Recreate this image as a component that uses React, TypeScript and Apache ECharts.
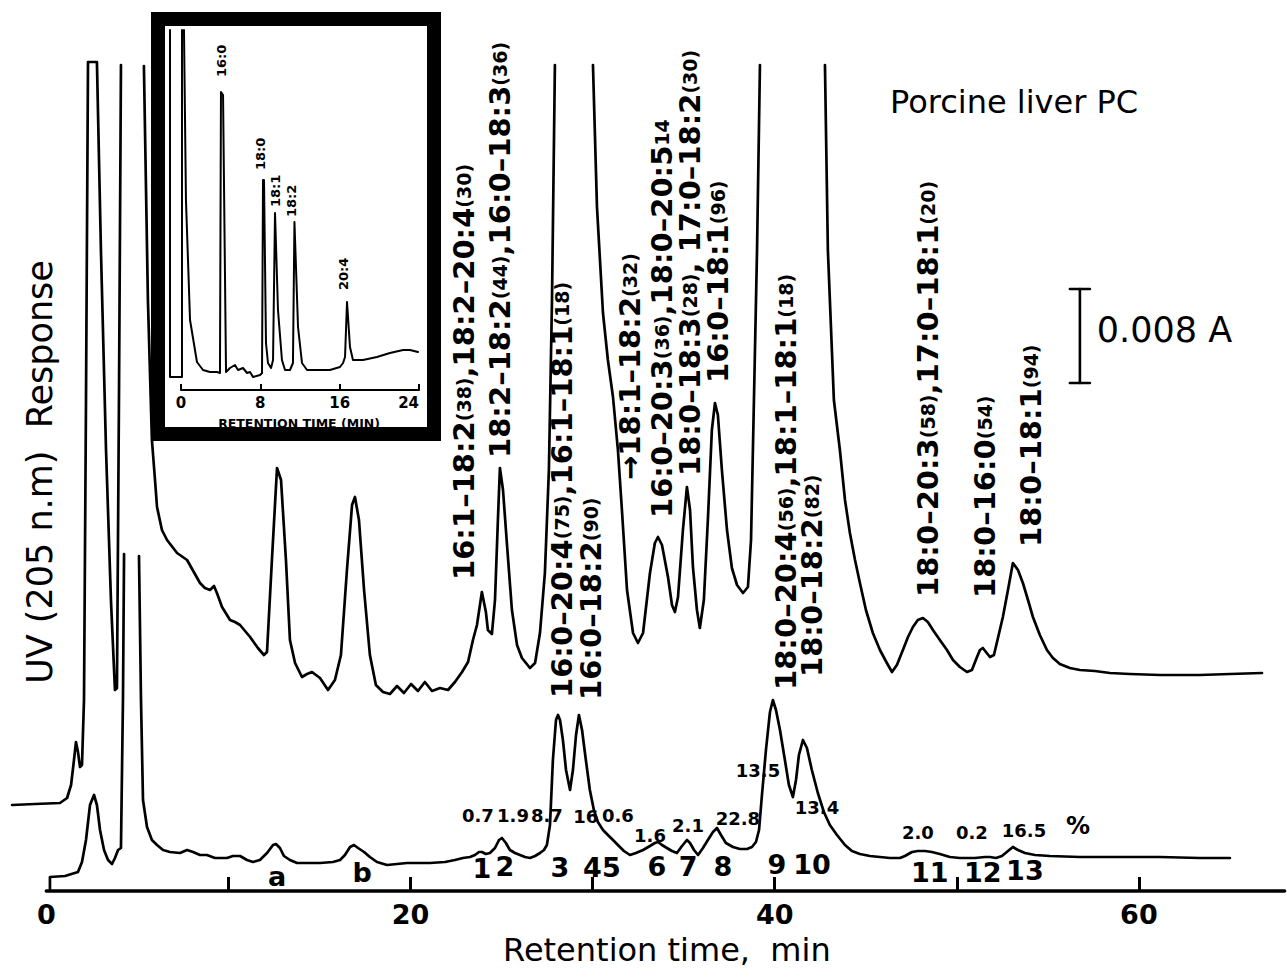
import React, { useEffect, useRef } from "react";
import * as echarts from "echarts";

type Pt = [number, number] | null;

// Main chromatogram: x = retention time (min), y = detector response (arbitrary units, 94 units = 0.008 A)
const upperTrace: Pt[] = [
  [-1.88, 86], [-0.62, 87], [0.75, 88], [1.14, 93], [1.36, 106], [1.52, 131], [1.63, 149], [1.74, 139], [1.85, 124], [1.96, 126],
  [2.07, 191], [2.18, 491], [2.29, 829], [2.78, 829], [3.0, 641], [3.28, 441], [3.55, 291], [3.77, 201], [3.88, 203], [3.99, 491], [4.1, 826], null,
  [5.36, 825], [5.58, 591], [5.8, 451], [5.97, 411], [6.08, 384], [6.35, 361], [6.63, 351], [7.18, 338], [7.73, 331], [8.44, 308],
  [8.71, 303], [8.99, 301], [9.21, 305], [9.37, 298], [9.65, 284], [10.09, 271], [10.36, 269], [10.64, 266], [11.19, 254], [11.62, 243],
  [11.95, 236], [12.12, 239], [12.39, 331], [12.67, 423], [12.89, 411], [13.16, 331], [13.38, 251], [13.66, 228], [14.04, 214], [14.32, 217],
  [14.59, 219], [15.03, 213], [15.47, 201], [15.85, 211], [16.18, 236], [16.51, 321], [16.79, 386], [16.95, 394], [17.17, 371], [17.45, 301],
  [17.77, 236], [18.1, 206], [18.49, 199], [18.87, 197], [19.26, 205], [19.64, 198], [20.03, 207], [20.41, 200], [20.79, 209], [21.18, 200],
  [21.62, 203], [22.06, 201], [22.44, 209], [22.83, 219], [23.16, 229], [23.43, 251], [23.65, 266], [23.92, 299], [24.14, 279], [24.25, 261],
  [24.47, 257], [24.64, 291], [24.8, 371], [24.91, 423], [25.08, 401], [25.3, 346], [25.57, 281], [25.85, 246], [26.12, 233], [26.56, 223],
  [26.84, 228], [27.11, 258], [27.38, 318], [27.6, 421], [27.77, 591], [27.93, 826], null,
  [30.02, 826], [30.24, 684], [30.57, 578], [30.84, 531], [31.12, 494], [31.39, 441], [31.61, 381], [31.89, 301], [32.22, 258], [32.49, 248],
  [32.77, 258], [33.15, 318], [33.42, 348], [33.59, 354], [33.81, 346], [34.14, 314], [34.36, 286], [34.52, 279], [34.69, 294], [34.96, 361],
  [35.18, 404], [35.35, 381], [35.51, 324], [35.73, 281], [35.89, 263], [36.11, 291], [36.33, 371], [36.55, 461], [36.72, 488], [36.88, 476],
  [37.1, 421], [37.38, 361], [37.65, 323], [37.93, 306], [38.26, 298], [38.53, 304], [38.7, 351], [38.86, 491], [39.03, 641], [39.19, 826], null,
  [42.76, 826], [42.92, 641], [43.25, 491], [43.58, 441], [43.86, 391], [44.13, 358], [44.41, 331], [44.68, 308], [45.01, 281], [45.39, 258],
  [45.78, 241], [46.16, 228], [46.44, 219], [46.71, 226], [47.04, 241], [47.32, 254], [47.59, 264], [47.86, 271], [48.14, 273], [48.41, 269],
  [48.69, 261], [49.07, 251], [49.46, 241], [49.79, 231], [50.17, 224], [50.56, 219], [50.83, 221], [51.11, 234], [51.27, 241], [51.43, 243],
  [51.6, 239], [51.82, 234], [52.04, 236], [52.26, 253], [52.53, 274], [52.81, 301], [53.08, 328], [53.36, 321], [53.63, 308], [53.91, 291],
  [54.18, 274], [54.56, 256], [54.95, 241], [55.28, 233], [55.66, 227], [56.21, 223], [56.76, 221], [57.58, 220], [58.41, 218], [59.51, 217],
  [61.15, 216], [63.35, 216], [65.0, 217], [66.76, 218],
];

const lowerTrace: Pt[] = [
  [0.2, 0], [0.2, 14], [1.03, 15], [1.74, 19], [1.96, 29], [2.18, 51], [2.4, 86], [2.62, 96], [2.78, 86], [2.95, 61], [3.17, 41], [3.39, 31],
  [3.61, 27], [3.77, 33], [3.94, 41], [4.1, 43], [4.21, 191], [4.27, 337], null,
  [5.09, 335], [5.2, 191], [5.31, 91], [5.53, 64], [5.8, 51], [6.08, 46], [6.41, 41], [6.79, 39], [7.34, 38], [7.73, 41], [8.06, 39],
  [8.44, 36], [8.82, 36], [9.26, 33], [9.65, 33], [9.92, 33], [10.25, 35], [10.64, 35], [11.02, 31], [11.35, 29], [11.73, 31], [12.12, 38],
  [12.45, 46], [12.61, 47], [12.83, 43], [13.05, 35], [13.38, 31], [13.77, 28], [14.48, 28], [15.03, 28], [15.74, 29], [16.13, 31], [16.4, 36],
  [16.68, 44], [16.9, 46], [17.12, 43], [17.45, 39], [17.77, 34], [18.16, 29], [18.71, 26], [19.26, 27], [19.81, 28], [20.52, 28], [21.07, 28],
  [21.89, 29], [22.44, 31], [22.88, 33], [23.27, 34], [23.54, 36], [23.76, 39], [23.92, 39], [24.14, 37], [24.36, 38], [24.64, 43], [24.86, 51],
  [25.02, 53], [25.24, 48], [25.46, 41], [25.74, 38], [26.01, 36], [26.29, 34], [26.56, 33], [26.84, 35], [27.11, 38], [27.33, 41], [27.49, 46],
  [27.66, 66], [27.82, 131], [27.99, 171], [28.1, 176], [28.21, 171], [28.37, 151], [28.54, 121], [28.76, 101], [28.92, 121], [29.09, 156],
  [29.25, 176], [29.42, 161], [29.63, 131], [29.85, 101], [30.07, 81], [30.29, 69], [30.57, 61], [30.84, 56], [31.12, 51], [31.39, 46],
  [31.72, 40], [32.05, 36], [32.38, 38], [32.77, 41], [33.15, 45], [33.42, 48], [33.59, 49], [33.81, 46], [34.08, 43], [34.36, 40], [34.63, 38],
  [34.91, 45], [35.18, 51], [35.35, 48], [35.57, 41], [35.79, 36], [36.06, 43], [36.33, 51], [36.61, 59], [36.83, 63], [37.05, 56], [37.32, 48],
  [37.71, 44], [38.09, 42], [38.48, 42], [38.75, 44], [38.97, 49], [39.14, 61], [39.3, 96], [39.52, 141], [39.74, 179], [39.9, 191], [40.07, 181],
  [40.29, 161], [40.56, 131], [40.78, 106], [41.0, 94], [41.17, 111], [41.33, 136], [41.55, 151], [41.77, 143], [42.04, 121], [42.37, 98],
  [42.7, 79], [43.03, 66], [43.42, 56], [43.86, 46], [44.24, 40], [44.68, 37], [45.23, 35], [45.78, 34], [46.33, 33], [46.88, 33], [47.15, 35],
  [47.54, 39], [47.86, 40], [48.25, 40], [48.63, 39], [49.07, 37], [49.62, 34], [50.17, 33], [50.99, 33], [51.54, 34], [51.82, 34], [52.15, 33],
  [52.48, 35], [52.81, 40], [53.08, 44], [53.36, 41], [53.74, 38], [54.29, 36], [55.11, 35], [56.76, 34], [58.96, 34], [61.15, 34], [63.35, 33],
  [65.0, 33],
];

// Inset: fatty acid derivatives, retention time (min) vs response
const insetTrace: Pt[] = [
  [-1.11, 360], [-1.11, 13], [0.1, 13], [0.1, 360], null,
  [0.3, 360], [0.5, 190], [0.91, 70], [1.61, 28], [2.22, 20], [2.92, 18], [3.63, 18], [3.93, 17], [4.03, 298], [4.24, 295], [4.54, 18],
  [4.94, 22], [5.44, 25], [5.75, 20], [6.25, 22], [6.66, 17], [6.96, 18], [7.26, 13], [7.97, 15], [8.17, 17], [8.27, 210], [8.37, 210],
  [8.57, 47], [8.77, 27], [9.08, 22], [9.28, 30], [9.48, 177], [9.78, 80], [10.18, 30], [10.49, 20], [10.99, 20], [11.29, 27], [11.44, 168],
  [11.8, 63], [12.2, 27], [12.71, 20], [13.71, 20], [15.02, 20], [16.03, 23], [16.34, 27], [16.54, 33], [16.74, 88], [17.04, 43], [17.34, 30],
  [18.35, 30], [19.76, 33], [21.07, 37], [22.39, 40], [23.09, 40], [23.9, 38],
];

// Molecular species annotations (upper trace); (n) and {n} = smaller figures
const species = [
  "16:1–18:2(38),18:2–20:4(30)",
  "18:2–18:2(44),16:0–18:3(36)",
  "16:0–20:4(75),16:1–18:1(18)",
  "16:0–18:2(90)",
  "→18:1–18:2(32)",
  "16:0–20:3(36),18:0–20:5{14}",
  "18:0–18:3(28), 17:0–18:2(30)",
  "16:0–18:1(96)",
  "18:0–20:4(56),18:1–18:1(18)",
  "18:0–18:2(82)",
  "18:0–20:3(58),17:0–18:1(20)",
  "18:0–16:0(54)",
  "18:0–18:1(94)",
];
const speciesTimes = [22.94, 24.91, 28.32, 29.91, 32.05, 33.81, 35.35, 36.9, 40.62, 42.05, 48.41, 51.54, 54.07];
const speciesBase = [311, 433, 193, 191, 411, 373, 415, 508, 201, 214, 294, 293, 344];

// Peak identifiers under the lower trace
const peakIds = ["a", "b", "1", "2", "3", "45", "6", "7", "8", "9", "10", "11", "12", "13"];
const peakIdTimes = [12.67, 17.34, 23.92, 25.19, 28.21, 30.51, 33.53, 35.24, 37.16, 40.12, 42.05, 48.52, 51.43, 53.74];
const peakIdLevels = [15, 19, 23, 25, 24, 24, 25, 25, 25, 27, 27, 19, 19, 21];

// Area percentages
const percents = ["0.7", "1.9", "8.7", "16", "0.6", "1.6", "2.1", "22.8", "13.5", "13.4", "2.0", "0.2", "16.5"];
const percentTimes = [23.7, 25.63, 27.49, 29.63, 31.39, 33.15, 35.24, 37.98, 39.08, 42.32, 47.86, 50.83, 53.69];
const percentLevels = [76, 76, 76, 75, 76, 56, 66, 73, 121, 84, 59, 59, 61];
const percentUnit = { t: 56.65, v: 65 };

// Inset acid labels
const insetAcids = ["16:0", "18:0", "18:1", "18:2", "20:4"];
const insetAcidTimes = [4.13, 7.97, 9.48, 11.19, 16.34];
const insetAcidBase = [313, 220, 183, 173, 100];

// Axis ticks
const mainTicks = [10, 20, 30, 40, 50, 60];
const mainTickLabels = [0, 20, 40, 60];
const insetTicks = [0, 8, 16, 24];

// Scale bar: 0.008 A
const scaleBarTime = 56.76;
const scaleBarRange = [508, 602];
const scaleBarText = "0.008 A";
const scaleTextAnchor = { t: 57.69, v: 561 };

const titleText = "Porcine liver PC";
const titleAnchor = { t: 46.33, v: 789 };
const xTitle = "Retention time,  min";
const xTitleAnchor = { t: 34.08, v: -59 };

const FONT = "DejaVu Sans";

function segments(pts: Pt[]): [number, number][][] {
  const out: [number, number][][] = [];
  let cur: [number, number][] = [];
  for (const p of pts) {
    if (p === null) {
      if (cur.length) out.push(cur);
      cur = [];
    } else cur.push(p);
  }
  if (cur.length) out.push(cur);
  return out;
}

function richSpecies(s: string) {
  return s
    .split(/(\(\d+\)|\{\d+\})/)
    .filter((p) => p.length > 0)
    .map((p) => {
      if (p.startsWith("(")) return `{s|${p}}`;
      if (p.startsWith("{")) return `{s|${p.slice(1, -1)}}`;
      return `{b|${p}}`;
    })
    .join("");
}

function lineSeries(data: [number, number][], gi: number, width: number) {
  return {
    type: "line",
    data,
    xAxisIndex: gi,
    yAxisIndex: gi,
    showSymbol: false,
    symbol: "none",
    clip: false,
    silent: true,
    z: gi ? 12 : 2,
    lineStyle: { color: "#000", width, join: "round", cap: "round" },
  };
}

function textSeries(items: { t: number; v: number; txt: string }[], gi: number, label: any) {
  return {
    type: "scatter",
    xAxisIndex: gi,
    yAxisIndex: gi,
    symbolSize: 1,
    clip: false,
    silent: true,
    z: gi ? 13 : 3,
    itemStyle: { color: "rgba(0,0,0,0)", opacity: 1 },
    data: items.map((d) => ({ value: [d.t, d.v], txt: d.txt })),
    label: {
      show: true,
      position: "inside",
      color: "#000",
      opacity: 1,
      fontFamily: FONT,
      formatter: (p: any) => p.data.txt,
      ...label,
    },
  };
}

function buildOption() {
  const series: any[] = [];
  segments(upperTrace).forEach((s) => series.push(lineSeries(s, 0, 2.7)));
  segments(lowerTrace).forEach((s) => series.push(lineSeries(s, 0, 2.7)));
  segments(insetTrace).forEach((s) => series.push(lineSeries(s, 1, 2.0)));

  // axis baselines (start at 0 min)
  series.push(lineSeries([[0, 0], [68, 0]], 0, 3.5));
  series.push(lineSeries([[0, 0], [24, 0]], 1, 2));

  const cap = 0.55;
  const [lo, hi] = scaleBarRange;
  series.push(lineSeries([[scaleBarTime - cap, lo], [scaleBarTime + cap, lo]], 0, 2.6));
  series.push(lineSeries([[scaleBarTime, lo], [scaleBarTime, hi]], 0, 2.6));
  series.push(lineSeries([[scaleBarTime - cap, hi], [scaleBarTime + cap, hi]], 0, 2.6));

  series.push(
    textSeries(
      species.map((s, i) => ({ t: speciesTimes[i], v: speciesBase[i], txt: richSpecies(s) })),
      0,
      {
        rotate: 90,
        align: "left",
        verticalAlign: "middle",
        rich: {
          b: { fontSize: 29, fontWeight: "bold", fontFamily: FONT, color: "#000" },
          s: { fontSize: 19, fontWeight: "bold", fontFamily: FONT, color: "#000" },
        },
      }
    )
  );
  series.push(
    textSeries(
      peakIds.map((s, i) => ({ t: peakIdTimes[i], v: peakIdLevels[i], txt: s })),
      0,
      { fontSize: 27, fontWeight: "bold", align: "center", verticalAlign: "middle" }
    )
  );
  series.push(
    textSeries(
      percents.map((s, i) => ({ t: percentTimes[i], v: percentLevels[i], txt: s })),
      0,
      { fontSize: 18, fontWeight: "bold", align: "center", verticalAlign: "middle" }
    )
  );
  series.push(
    textSeries([{ t: percentUnit.t, v: percentUnit.v, txt: "%" }], 0, {
      fontSize: 24,
      fontWeight: "bold",
      align: "center",
      verticalAlign: "middle",
    })
  );
  series.push(
    textSeries([{ t: titleAnchor.t, v: titleAnchor.v, txt: titleText }], 0, {
      fontSize: 32,
      align: "left",
      verticalAlign: "middle",
    })
  );
  series.push(
    textSeries([{ t: scaleTextAnchor.t, v: scaleTextAnchor.v, txt: scaleBarText }], 0, {
      fontSize: 35,
      align: "left",
      verticalAlign: "middle",
    })
  );
  series.push(
    textSeries([{ t: xTitleAnchor.t, v: xTitleAnchor.v, txt: xTitle }], 0, {
      fontSize: 32,
      align: "center",
      verticalAlign: "middle",
    })
  );
  series.push(
    textSeries(
      insetAcids.map((s, i) => ({ t: insetAcidTimes[i], v: insetAcidBase[i], txt: s })),
      1,
      { rotate: 90, align: "left", verticalAlign: "middle", fontSize: 13, fontWeight: "bold" }
    )
  );

  // main: 18.21 px/min, 0 min at x=46.3 ; inset: 9.917 px/min, 0 min at x=181
  const mainMin = -2.5;
  const mainMax = 68;
  const insetMin = -1.2;
  const insetMax = 24;

  return {
    animation: false,
    backgroundColor: "#fff",
    grid: [
      {
        left: 46.3 + mainMin * 18.21,
        top: 10,
        width: (mainMax - mainMin) * 18.21,
        height: 881,
        outerBoundsMode: "none",
        containLabel: false,
      },
      {
        left: 181 + insetMin * 9.917,
        top: 30,
        width: (insetMax - insetMin) * 9.917,
        height: 360,
        outerBoundsMode: "none",
        containLabel: false,
        z: 10,
      },
    ],
    xAxis: [
      {
        type: "value",
        gridIndex: 0,
        min: mainMin,
        max: mainMax,
        axisLine: { show: false },
        axisTick: {
          show: true,
          inside: true,
          length: 14,
          lineStyle: { color: "#000", width: 3 },
          customValues: mainTicks,
        },
        axisLabel: {
          customValues: mainTickLabels,
          formatter: (v: number) => (mainTickLabels.includes(v) ? String(v) : ""),
          color: "#000",
          fontSize: 27,
          fontWeight: "bold",
          fontFamily: FONT,
          margin: 10,
        },
        splitLine: { show: false },
      },
      {
        type: "value",
        gridIndex: 1,
        min: insetMin,
        max: insetMax,
        z: 12,
        axisLine: { show: false },
        axisTick: {
          show: true,
          inside: true,
          length: 6,
          lineStyle: { color: "#000", width: 2 },
          customValues: insetTicks,
        },
        axisLabel: {
          customValues: insetTicks,
          formatter: (v: number) => (insetTicks.includes(v) ? String(v) : ""),
          alignMaxLabel: "right",
          color: "#000",
          fontSize: 15,
          fontWeight: "bold",
          fontFamily: FONT,
          margin: 5,
        },
        splitLine: { show: false },
        name: "RETENTION TIME (MIN)",
        nameLocation: "middle",
        nameGap: 27,
        nameTextStyle: { fontSize: 12.5, fontWeight: "bold", fontFamily: FONT, color: "#000", padding: [0, 0, 0, 10] },
      },
    ],
    yAxis: [
      { type: "value", gridIndex: 0, min: 0, max: 881, show: false },
      { type: "value", gridIndex: 1, min: 0, max: 360, show: false },
    ],
    graphic: [
      { type: "rect", z: 8, silent: true, shape: { x: 151, y: 12, width: 290, height: 429 }, style: { fill: "#fff" } },
      {
        type: "rect",
        z: 50,
        silent: true,
        shape: { x: 158, y: 19, width: 276, height: 415 },
        style: { fill: "transparent", stroke: "#000", lineWidth: 14 },
      },
      {
        type: "text",
        z: 5,
        silent: true,
        x: 40,
        y: 472,
        rotation: Math.PI / 2,
        style: {
          text: "UV (205 n.m)  Response",
          fill: "#000",
          fontSize: 35,
          fontFamily: FONT,
          align: "center",
          verticalAlign: "middle",
        },
      },
    ],
    series,
  };
}

export default function App() {
  const ref = useRef<HTMLDivElement>(null);
  useEffect(() => {
    if (!ref.current) return;
    const chart = echarts.init(ref.current, null, { renderer: "svg" });
    chart.setOption(buildOption() as any);
    return () => chart.dispose();
  }, []);
  return (
    <div
      ref={ref}
      style={{ position: "fixed", left: 0, top: 0, width: 1287, height: 979, background: "#fff" }}
    />
  );
}
